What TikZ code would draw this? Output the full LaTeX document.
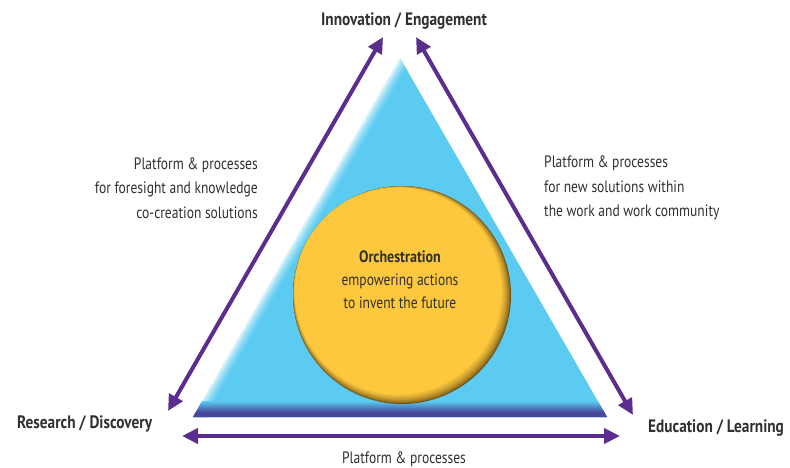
\documentclass[tikz,border=0pt]{standalone}
\usepackage{fontspec}
\setmainfont{PT Sans}
\newfontfamily\condfont[FakeStretch=0.82]{PT Sans}
\newfontfamily\condbold[FakeStretch=0.85]{PT Sans Bold}
\usetikzlibrary{arrows.meta}
\definecolor{arrowc}{HTML}{5A2D8E}
\definecolor{tri}{HTML}{5CCBF2}
\definecolor{band}{HTML}{48489A}
\definecolor{gold}{HTML}{FDC83E}
\definecolor{golddark}{HTML}{6A4E16}
\definecolor{txt}{HTML}{303030}
\begin{document}
\begin{tikzpicture}[x=1pt,y=-1pt,
  conn/.style={arrowc, line width=4pt, {Triangle[length=16pt,width=15pt]}-{Triangle[length=16pt,width=15pt]}},
  lab/.style={font=\fontsize{18}{20}\condbold, text=txt, inner sep=0pt},
  desc/.style={font=\fontsize{16.5}{24.5}\condfont, text=txt, inner sep=0pt},
  ctext/.style={font=\fontsize{16.5}{23}\condfont, text=txt, inner sep=0pt, align=center}]
\useasboundingbox (0,0) rectangle (790,468);

% triangle
\coordinate (A) at (193,417);
\coordinate (B) at (400,58);
\coordinate (C) at (607,417);
\fill[tri] (A) -- (B) -- (C) -- cycle;
\begin{scope}
  \clip (A) -- (B) -- (C) -- cycle;
  \coordinate (Aext) at (93,590);
  \coordinate (Bext) at (500,-115);
  \foreach \i in {0,...,11} {
    \pgfmathtruncatemacro\p{100*(\i/11)^0.6}
    \pgfmathsetmacro\ox{0.8663*\i}
    \pgfmathsetmacro\oy{0.4995*\i}
    \draw[tri!\p!white, line width=1.3pt] ([shift={(\ox,\oy)}]Aext) -- ([shift={(\ox,\oy)}]Bext);
  }
  \foreach \j in {0,...,16} {
    \pgfmathtruncatemacro\q{min(100,100*\j/11)}
    \pgfmathsetmacro\yy{402+\j}
    \draw[band!\q!tri, line width=1.3pt] (150,\yy) -- (650,\yy);
  }
\end{scope}

% circle
\coordinate (O) at (402,295);
\fill[golddark] (O) circle[radius=109];
\foreach \i in {1,...,14} {
  \pgfmathsetmacro\t{\i/14}
  \pgfmathtruncatemacro\p{100*\t^0.6}
  \pgfmathsetmacro\sh{-4*\t}
  \pgfmathsetmacro\rr{109-5.66*\t}
  \fill[gold!\p!golddark] ([shift={(\sh,\sh)}]O) circle[radius=\rr];
}
\node[ctext] (orch) at (400,280) {{\condbold Orchestration}\\empowering actions\\to invent the future};

% arrows
\coordinate (l1) at (168,411);
\coordinate (l2) at (383,37);
\coordinate (r1) at (416,37);
\coordinate (r2) at (633,415);
\coordinate (b1) at (182,436);
\coordinate (b2) at (620,436);
\draw[conn] (l1) -- (l2);
\draw[conn] (r1) -- (r2);
\draw[conn] (b1) -- (b2);

% labels
\node[lab] (ie) at (404,21) {Innovation / Engagement};
\node[lab, anchor=west] (rd) at (17,424) {Research / Discovery};
\node[lab, anchor=west] (el) at (648,428) {Education / Learning};
\node[desc] (pb) at (404,459) {Platform \& processes};
\node[desc, align=right, anchor=east] (pl) at (258,188) {Platform \& processes\\for foresight and knowledge\\co-creation solutions};
\node[desc, align=left, anchor=west] (pr) at (544,188) {Platform \& processes\\for new solutions within\\the work and work community};
\end{tikzpicture}
\end{document}
